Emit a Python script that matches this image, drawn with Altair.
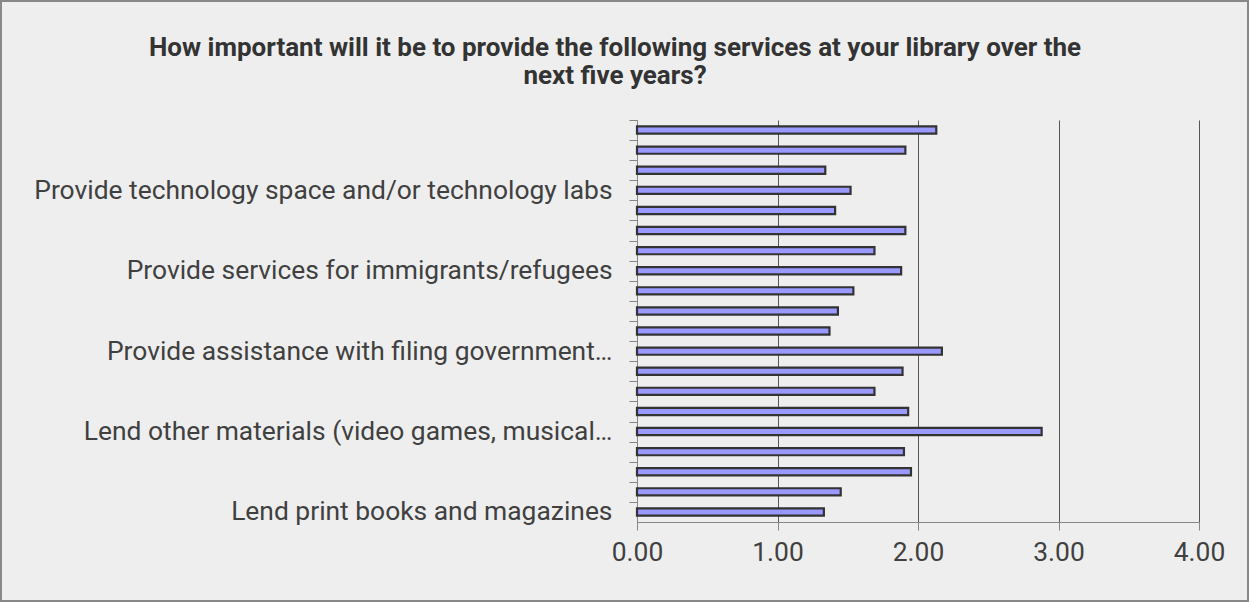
import json
import altair as alt
import pandas as pd

# Categories listed top-to-bottom as drawn; only every 4th label is shown in the original
service_keys = [f"S{i:02d}" for i in range(20, 0, -1)]
service_labels = [
    "", "", "", "Provide technology space and/or technology labs",
    "", "", "", "Provide services for immigrants/refugees",
    "", "", "", "Provide assistance with filing government\u2026",
    "", "", "", "Lend other materials (video games, musical\u2026",
    "", "", "", "Lend print books and magazines",
]
mean_scores = [2.13, 1.91, 1.34, 1.52, 1.41, 1.91, 1.69, 1.88, 1.54, 1.43,
               1.37, 2.17, 1.89, 1.69, 1.93, 2.88, 1.90, 1.95, 1.45, 1.33]
x_ticks = [0, 1, 2, 3, 4]

title_lines = [
    "How important will it be to provide the following services at your library over the",
    "next five years?",
]

df = pd.DataFrame({"key": service_keys, "label": service_labels, "score": mean_scores})

parts = []
for k, lab in zip(service_keys, service_labels):
    if lab:
        parts.append(f"datum.value == {json.dumps(k)} ? {json.dumps(lab, ensure_ascii=False)}")
label_expr = " : ".join(parts) + " : ''"

FONT = "Roboto"
PAD_INNER = 0.64
STEP = 402 / 20

bars = alt.Chart(df).mark_bar(
    fill="#9999FF", stroke="#333333", strokeWidth=2.2
).encode(
    x=alt.X("score:Q",
            scale=alt.Scale(domain=[0, 4], nice=False, zero=True),
            axis=alt.Axis(values=x_ticks, format=".2f", title=None, grid=True,
                          gridColor="#555555", gridWidth=1, labelFlush=False,
                          domainColor="#868686", tickColor="#868686", tickSize=8,
                          labelPadding=9, labelFontSize=26.4, labelFont=FONT,
                          labelColor="#404040")),
    y=alt.Y("key:N", sort=service_keys,
            scale=alt.Scale(paddingInner=PAD_INNER, paddingOuter=PAD_INNER / 2),
            axis=alt.Axis(title=None, labelExpr=label_expr,
                          tickOffset=-STEP / 2, labelOffset=STEP / 2,
                          domainColor="#868686", tickColor="#868686", tickSize=8,
                          labelPadding=17, labelFontSize=26.4, labelFont=FONT,
                          labelColor="#404040", labelLimit=800)),
)

border = alt.Chart(pd.DataFrame({"a": [0]})).mark_rect(
    fillOpacity=0, stroke="#888888", strokeWidth=2
).encode(
    x=alt.value(-636), x2=alt.value(611), y=alt.value(-119), y2=alt.value(481)
)

chart = alt.layer(border, bars).properties(
    width=562,
    height=402,
    autosize=alt.AutoSizeParams(type="none"),
    padding={"left": 637, "top": 120, "right": 50, "bottom": 80},
    title=alt.TitleParams(text=title_lines, anchor="middle", frame="group", dx=-303,
                          offset=-89, fontSize=26, font=FONT, fontWeight="bold",
                          color="#333333", lineHeight=28),
).configure(background="#EEEEEE").configure_view(stroke=None)

chart.save("out.html", embed_options={"renderer": "svg", "actions": False})
